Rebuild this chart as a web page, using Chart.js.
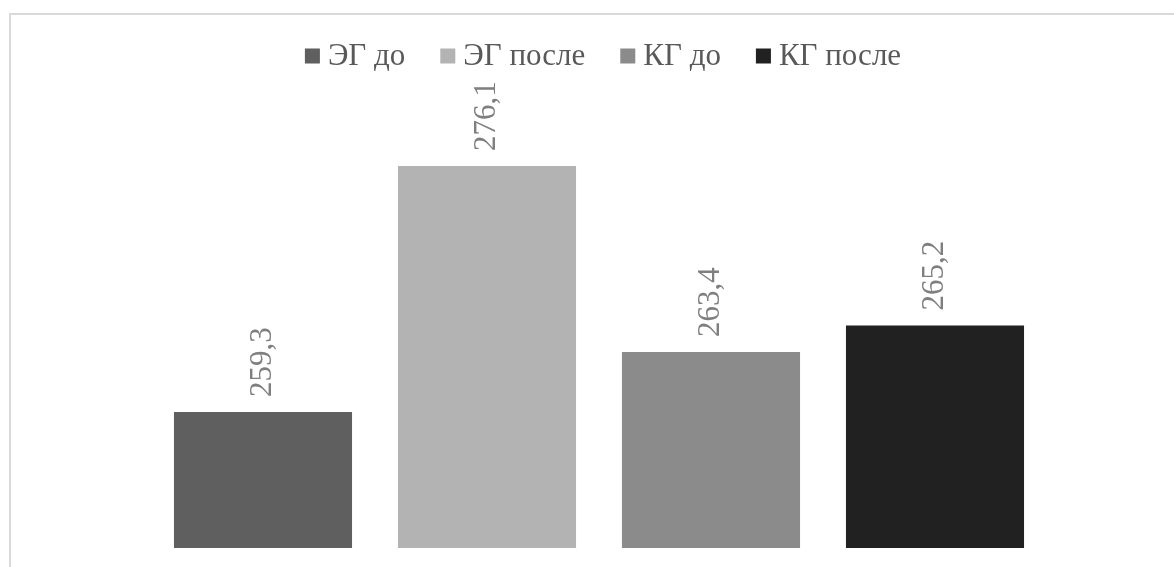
<!DOCTYPE html>
<html>
<head>
<meta charset="utf-8">
<script src="https://cdn.jsdelivr.net/npm/chart.js@4"></script>
<style>
    html, body { margin: 0; padding: 0; background: #fff; }
    #frame {
        position: absolute; left: 9px; top: 13px; width: 1300px; height: 700px;
        border-top: 2px solid #d9d9d9; border-left: 2px solid #d9d9d9;
    }
    #wrap { position: absolute; left: 0; top: 0; width: 1174px; height: 567px; }
</style>
</head>
<body>
<div id="frame"></div>
<div id="wrap"><canvas id="chartGroups"></canvas></div>
<script>
const groups = ['ЭГ до', 'ЭГ после', 'КГ до', 'КГ после'];
const values = [259.3, 276.1, 263.4, 265.2];
const colors = ['#5f5f5f', '#b3b3b3', '#8b8b8b', '#212121'];

const FONT = '"Liberation Serif", "Times New Roman", serif';

// vertical value labels above each bar
const barLabels = {
    id: 'barLabels',
    afterDatasetsDraw(chart) {
        const ctx = chart.ctx;
        ctx.save();
        ctx.font = '31px ' + FONT;
        ctx.fillStyle = '#7f7f7f';
        ctx.textAlign = 'left';
        ctx.textBaseline = 'middle';
        chart.data.datasets.forEach((ds, i) => {
            const bar = chart.getDatasetMeta(i).data[0];
            ctx.save();
            ctx.translate(bar.x, bar.y - 15);
            ctx.rotate(-Math.PI / 2);
            ctx.fillText(ds.data[0].toFixed(1).replace('.', ','), 0, 0);
            ctx.restore();
        });
        ctx.restore();
    },
};

// legend row: square + text, centred above the bars
const topLegend = {
    id: 'topLegend',
    afterDraw(chart) {
        const ctx = chart.ctx;
        const box = 15, gap = 8, spacing = 35, y = 56;
        ctx.save();
        ctx.font = '31px ' + FONT;
        ctx.textBaseline = 'middle';
        const widths = chart.data.datasets.map(ds => box + gap + ctx.measureText(ds.label).width);
        const total = widths.reduce((a, b) => a + b, 0) + spacing * (widths.length - 1);
        let x = (chart.chartArea.left + chart.chartArea.right) / 2 + 4 - total / 2;
        chart.data.datasets.forEach((ds, i) => {
            ctx.fillStyle = ds.backgroundColor;
            ctx.fillRect(x, y - box / 2, box, box);
            ctx.fillStyle = '#595959';
            ctx.fillText(ds.label, x + box + gap, y + 1);
            x += widths[i] + spacing;
        });
        ctx.restore();
    },
};

new Chart(document.getElementById('chartGroups'), {
    type: 'bar',
    data: {
        labels: [''],
        datasets: groups.map((g, i) => ({
            label: g,
            data: [values[i]],
            backgroundColor: colors[i],
            borderWidth: 0,
        })),
    },
    options: {
        responsive: true,
        maintainAspectRatio: false,
        animation: false,
        datasets: {
            bar: { categoryPercentage: 1, barPercentage: 0.795 },
        },
        layout: {
            padding: { left: 151, right: 127, top: 109, bottom: 19 },
        },
        plugins: {
            legend: { display: false },
            tooltip: { enabled: false },
        },
        scales: {
            x: { display: false },
            y: { display: false, min: 250, max: 280 },
        },
    },
    plugins: [barLabels, topLegend],
});
</script>
</body>
</html>
